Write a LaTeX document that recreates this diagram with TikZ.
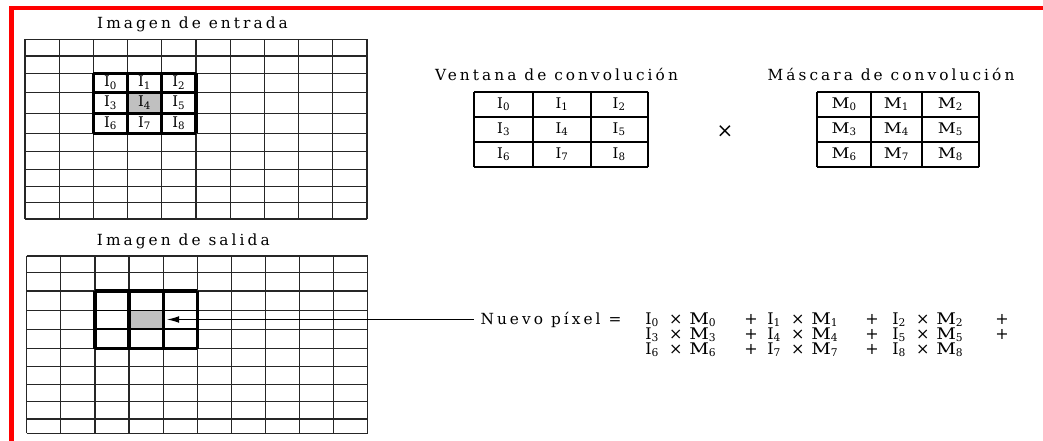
\documentclass[tikz,border=0pt]{standalone}
\usepackage{fontspec}
\setmainfont{DejaVu Serif}[LetterSpace=20]
\usetikzlibrary{arrows.meta}
\definecolor{cellgray}{RGB}{192,192,192}
\definecolor{bordred}{RGB}{255,0,0}
\newcommand\termIM[1]{\makebox[17pt][l]{I\textsubscript{#1}}\makebox[12pt]{×}\hspace{4pt}\scalebox{1.2}[1]{M}\textsubscript{#1}}
\newcommand\cellM[1]{\scalebox{1.2}[1]{M}\textsubscript{#1}}
\begin{document}
\begin{tikzpicture}[x=0.75pt,y=-0.75pt,
  gridline/.style={line width=0.9pt,draw=black!85},
  winthick/.style={line width=2.4pt,draw=black},
  winthin/.style={line width=1.2pt,draw=black},
  tabline/.style={line width=1.6pt,draw=black},
  title/.style={anchor=base,inner sep=0pt,font=\fontsize{11.5}{13}\selectfont},
  lbl/.style={inner sep=0pt,font=\fontsize{11}{13}\selectfont},
  term/.style={anchor=base west,inner sep=0pt,font=\fontsize{12}{14}\selectfont},
  plus/.style={anchor=base,inner sep=0pt,font=\fontsize{12}{14}\selectfont\addfontfeature{LetterSpace=0}}]
\useasboundingbox (0,0) rectangle (1043,441);
\fill[white] (0,0) rectangle (1043,441);
% red border
\fill[bordred] (9,6) rectangle (1043,10);
\fill[bordred] (9,6) rectangle (14,441);
% ---------- input image ----------
\node[title] (tin) at (192.5,28.8) {Imagen de entrada};
\fill[cellgray] (127.6,92.3) rectangle (161.8,113.3);
\foreach \x in {25,59.2,93.4,127.6,161.8,196,230.2,264.4,298.6,332.8,367}
  \draw[gridline] (\x,39.3) -- (\x,219);
\foreach \y in {39.3,56,73.3,92.3,113.3,133.3,151.7,169.3,186.7,202.7,219}
  \draw[gridline] (25,\y) -- (367,\y);
\foreach \x in {93.4,127.6,161.8,196}
  \draw[winthick] (\x,73.3) -- (\x,133.3);
\foreach \y in {73.3,92.3,113.3,133.3}
  \draw[winthick] (93.4,\y) -- (196,\y);
\foreach \k/\x/\y in {0/110.5/82.8,1/144.7/82.8,2/178.9/82.8,
                      3/110.5/102.8,4/144.7/102.8,5/178.9/102.8,
                      6/110.5/123.3,7/144.7/123.3,8/178.9/123.3}
  \node[lbl] (g\k) at (\x,\y) {I\textsubscript{\k}};
% ---------- output image ----------
\node[title] (tout) at (183.3,245.5) {Imagen de salida};
\fill[cellgray] (129,310.5) rectangle (163.1,329.3);
\foreach \x in {26.7,60.8,94.9,129,163.1,197.2,231.3,265.4,299.5,333.6,367.7}
  \draw[gridline] (\x,256) -- (\x,433.3);
\foreach \y in {256,272.7,291,310.5,329.3,348.6,366.7,384.3,401.7,419,433.3}
  \draw[gridline] (26.7,\y) -- (367.7,\y);
\foreach \x in {94.9,129,163.1,197.2}
  \draw[winthick] (\x,291) -- (\x,348.6);
\foreach \y in {291,348.6}
  \draw[winthick] (94.9,\y) -- (197.2,\y);
\foreach \y in {310.5,329.3}
  \draw[winthin] (94.9,\y) -- (197.2,\y);
% ---------- convolution window ----------
\node[title] (tven) at (556.5,81) {Ventana de convolución};
\foreach \x in {474,533.3,590.7,647.7}
  \draw[tabline] (\x,91.7) -- (\x,166.7);
\foreach \y in {91.7,116.7,141.7,166.7}
  \draw[tabline] (474,\y) -- (647.7,\y);
\foreach \k/\x/\y in {0/503.7/104.2,1/562/104.2,2/619.2/104.2,
                      3/503.7/129.2,4/562/129.2,5/619.2/129.2,
                      6/503.7/154.2,7/562/154.2,8/619.2/154.2}
  \node[lbl] (v\k) at (\x,\y) {I\textsubscript{\k}};
\node[inner sep=0pt,font=\fontsize{15}{15}\selectfont\addfontfeature{LetterSpace=0}] (times) at (725,131.7) {×};
% ---------- convolution mask ----------
\node[title] (tmas) at (891,81) {Máscara de convolución};
\foreach \x in {817.3,871,921.7,979.3}
  \draw[tabline] (\x,91.7) -- (\x,167.3);
\foreach \y in {91.7,116.7,141.7,167.3}
  \draw[tabline] (817.3,\y) -- (979.3,\y);
\foreach \k/\x/\y in {0/844.2/104.2,1/896.4/104.2,2/950.5/104.2,
                      3/844.2/129.2,4/896.4/129.2,5/950.5/129.2,
                      6/844.2/154.2,7/896.4/154.2,8/950.5/154.2}
  \node[lbl] (m\k) at (\x,\y) {\cellM{\k}};
% ---------- formula ----------
\node[title,inner xsep=5pt,font=\fontsize{11.5}{13}\selectfont] (nuevo) at (551,324.5) {Nuevo píxel =};
\foreach \r/\yy in {0/324.5,1/339.5,2/354.5}{
  \foreach \c/\xx in {0/645,1/767,2/892}{
    \pgfmathtruncatemacro\k{3*\r+\c}
    \node[term] (t\k) at (\xx,\yy) {\termIM{\k}};
  }
  \node[plus] (pa\r) at (751,\yy) {+};
  \node[plus] (pb\r) at (872,\yy) {+};
}
\node[plus] (pc0) at (1002,324.5) {+};
\node[plus] (pc1) at (1002,339.5) {+};
% arrow
\coordinate (tip) at (167,319.5);
\draw[line width=0.8pt,-{Latex[length=9pt,width=5pt]}] (nuevo.west |- tip) -- (tip);
\end{tikzpicture}
\end{document}
